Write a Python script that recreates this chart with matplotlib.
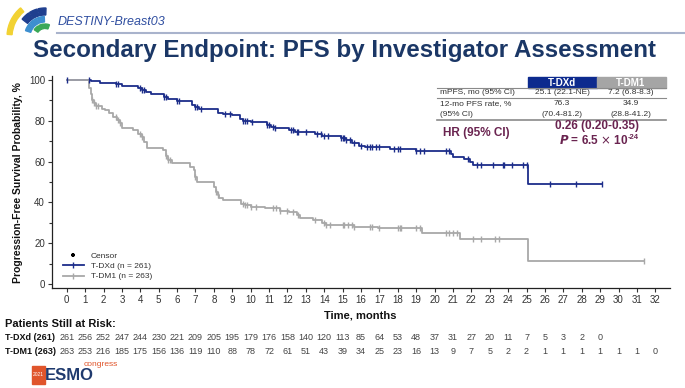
#!/usr/bin/env python3

import numpy as np
import matplotlib
matplotlib.use('Agg')
import matplotlib.pyplot as plt
from matplotlib.lines import Line2D
from matplotlib.patches import Wedge, Rectangle

plt.rcParams['font.family'] = ['Liberation Sans', 'DejaVu Sans']

# --- KM step data ---
dxd_t = [0, 1.3, 1.8, 2.7, 3.0, 3.9, 4.1, 4.3, 4.6, 5.3, 5.5, 6.0, 6.8, 7.0, 7.2, 8.2, 8.5, 9.0,
         9.4, 9.6, 10.0, 10.9, 11.1, 11.3, 12.1, 12.4, 13.5, 13.9, 14.9, 15.2, 15.5, 15.9, 16.2,
         17.6, 19.0, 20.9, 21.0, 21.6, 21.9, 22.1, 25.1]
dxd_s = [100, 99.5, 98.7, 98, 97, 96, 95, 94, 93, 91.5, 90.5, 89.6, 88, 87, 85.8, 84, 83.5, 82.8,
         81, 80, 79.4, 78, 77, 76.3, 75.5, 74.6, 73.5, 72.5, 71.5, 70.6, 69.3, 67.6, 67,
         66, 65, 63.5, 62.4, 61.1, 60, 58.5, 48.9]
dxd_end = 29.1
dxd_cens = [0, 1.2, 2.7, 2.8, 4.0, 4.1, 4.2, 5.3, 5.4, 6.0, 6.1, 7.0, 7.1, 7.3, 8.6, 8.9, 9.6, 9.7,
            9.8, 10.1, 10.9, 11.0, 11.2, 11.3, 12.2, 12.3, 12.5, 12.6, 13.0, 13.6, 13.8, 14.0, 14.2,
            14.9, 15.0, 15.1, 15.2, 15.4, 15.6, 16.0, 16.3, 16.5, 16.6, 16.8, 17.0, 17.8, 18.0, 18.1,
            19.0, 19.2, 19.4, 20.6, 20.8, 21.8, 22.3, 22.5, 23.2, 23.7, 23.8, 24.2, 24.8, 25.0,
            26.3, 27.7, 29.1]

dm1_t = [0, 1.2, 1.3, 1.4, 1.5, 1.6, 1.9, 2.1, 2.3, 2.5, 2.75, 2.9, 3.0, 3.6, 3.9, 4.1, 4.2, 4.35,
         5.25, 5.4, 5.5, 5.7, 6.7, 6.9, 7.0, 7.1, 8.0, 8.1, 8.2, 8.3, 8.5, 9.5, 9.7, 10.0, 10.8,
         11.6, 12.1, 12.5, 12.7, 13.4, 13.9, 14.1, 15.6, 16.9, 19.3, 21.4, 25.1]
dm1_s = [100, 96, 93, 90, 88.6, 87.4, 86, 85.3, 83.8, 82, 80.4, 78.8, 76.3, 75.5, 73.5, 71.9, 69.8,
         66.7, 65.7, 63, 61, 59.5, 57.5, 55.9, 52.6, 50.2, 47.7, 45, 43.6, 42, 41.2, 39.2, 38.6,
         37.9, 37.1, 35.9, 35.5, 33.8, 32.2, 31.4, 29.7, 28.9, 28.1, 27.3, 25.2, 21.9, 11.1]
dm1_end = 31.4
dm1_cens = [1.4, 1.5, 1.6, 1.7, 2.7, 2.8, 2.9, 4.0, 4.1, 5.4, 5.5, 5.6, 7.0, 8.1, 8.2, 9.6, 9.7,
            9.8, 10.0, 10.3, 11.2, 11.4, 11.6, 12.0, 12.3, 12.6, 13.5, 14.0, 14.1, 14.3, 15.0, 15.1,
            15.3, 15.5, 15.6, 16.5, 16.6, 17.0, 18.0, 18.1, 18.2, 19.0, 19.2, 20.6, 20.8, 21.0,
            21.2, 22.1, 22.5, 23.3, 23.5, 31.4]

risk_months = list(range(0, 33))
risk_dxd = [261, 256, 252, 247, 244, 230, 221, 209, 205, 195, 179, 176, 158, 140, 120, 113, 85,
            64, 53, 48, 37, 31, 27, 20, 11, 7, 5, 3, 2, 0]
risk_dm1 = [263, 253, 216, 185, 175, 156, 136, 119, 110, 88, 78, 72, 61, 51, 43, 39, 34, 25, 23,
            16, 13, 9, 7, 5, 2, 2, 1, 1, 1, 1, 1, 1, 0]

BLUE = '#1c2d8a'
GREY = '#a8a8a8'
NAVY = '#1b3766'
MAROON = '#6a2450'
TXT = '#333333'


def km(ax, t, s, t_end, cens, color):
    tt = list(t) + [t_end]
    ss = list(s) + [s[-1]]
    ax.step(tt, ss, where='post', color=color, lw=1.3, zorder=3)
    c = np.asarray(cens)
    idx = np.searchsorted(np.asarray(t), c, side='right') - 1
    ax.plot(c, np.asarray(s)[idx], ls='none', marker='|', ms=4.5, mew=1.0,
            color=color, zorder=4)


fig = plt.figure(figsize=(6.85, 3.88), dpi=100)
W, H = 685, 388

ax = fig.add_axes([52 / W, 1 - 288 / H, (670 - 52) / W, (288 - 76) / H])
km(ax, dxd_t, dxd_s, dxd_end, dxd_cens, BLUE)
km(ax, dm1_t, dm1_s, dm1_end, dm1_cens, GREY)

ax.set_xlim(-0.8, 32.8)
ax.set_ylim(-2, 102)
ax.set_xticks(risk_months)
ax.set_yticks([0, 20, 40, 60, 80, 100])
ax.set_yticks([10, 30, 50, 70, 90], minor=True)
ax.tick_params(axis='both', labelsize=7, colors=TXT, length=3, width=0.8, pad=2)
ax.tick_params(axis='y', which='minor', length=2, width=0.8, colors=TXT)
for sp in ['top', 'right']:
    ax.spines[sp].set_visible(False)
for sp in ['left', 'bottom']:
    ax.spines[sp].set_color('#222222')
    ax.spines[sp].set_linewidth(0.9)

handles = [
    Line2D([], [], ls='none', marker='+', ms=3.5, mew=1.6, color='black'),
    Line2D([], [], color=BLUE, lw=1.3, marker='|', ms=4),
    Line2D([], [], color=GREY, lw=1.3, marker='|', ms=4),
]
ax.legend(handles, ['Censor', 'T-DXd (n = 261)', 'T-DM1 (n = 263)'], loc='lower left',
          bbox_to_anchor=(0.005, 0.0), frameon=False, fontsize=6, handlelength=2.6,
          labelspacing=0.3, labelcolor=TXT)

# axis labels
fig.text(18 / W, 1 - 183 / H, 'Progression-Free Survival Probability, %', rotation=90,
         ha='center', va='center', fontsize=7.5, fontweight='bold', color='#111111')
fig.text(360 / W, 1 - 315 / H, 'Time, months', ha='center', va='center', fontsize=8,
         fontweight='bold', color='#111111')

# risk table
tr = ax.get_xaxis_transform()
fig.text(5 / W, 1 - 324 / H, 'Patients Still at Risk:', ha='left', va='center', fontsize=8,
         fontweight='bold', color='#111111')
for lab, vals, yp in [('T-DXd (261)', risk_dxd, 338), ('T-DM1 (263)', risk_dm1, 352)]:
    fig.text(5 / W, 1 - yp / H, lab, ha='left', va='center', fontsize=6.5,
             fontweight='bold', color='#111111')
    yax = (H - yp - (H - 288)) / (288 - 76)
    for m, v in zip(risk_months, vals):
        ax.text(m, yax, str(v), transform=tr, ha='center', va='center', fontsize=6.5,
                color='#444444', clip_on=False)

# summary table
fig.patches.append(Rectangle((528 / W, 1 - 88 / H), 69 / W, 11 / H, transform=fig.transFigure,
                             color='#0d2a8e', zorder=1))
fig.patches.append(Rectangle((597 / W, 1 - 88 / H), 69 / W, 11 / H, transform=fig.transFigure,
                             color='#a5a5a5', zorder=1))
fig.text(562 / W, 1 - 82.5 / H, 'T-DXd', ha='center', va='center', fontsize=7,
         fontweight='bold', color='white')
fig.text(631 / W, 1 - 82.5 / H, 'T-DM1', ha='center', va='center', fontsize=7,
         fontweight='bold', color='white')
for yl, lw in [(88, 0.8), (98, 0.8), (119.5, 1.2)]:
    fig.add_artist(Line2D([437 / W, 666 / W], [1 - yl / H, 1 - yl / H], color='#8a8a8a', lw=lw))
rows = [('mPFS, mo (95% CI)', '25.1 (22.1-NE)', '7.2 (6.8-8.3)', 93),
        ('12-mo PFS rate, %', '76.3', '34.9', 103.5),
        ('(95% CI)', '(70.4-81.2)', '(28.8-41.2)', 114)]
for a, b, c, yp in rows:
    fig.text(440 / W, 1 - yp / H, a, ha='left', va='center', fontsize=6, color=TXT)
    fig.text(562 / W, 1 - yp / H, b, ha='center', va='center', fontsize=6, color=TXT)
    fig.text(631 / W, 1 - yp / H, c, ha='center', va='center', fontsize=6, color=TXT)
fig.text(443 / W, 1 - 133 / H, 'HR (95% CI)', ha='left', va='center', fontsize=8.5,
         fontweight='bold', color=MAROON)
fig.text(597 / W, 1 - 126 / H, '0.26 (0.20-0.35)', ha='center', va='center', fontsize=8.5,
         fontweight='bold', color=MAROON)
fig.text(628 / W, 1 - 140 / H, r'$\bfit{P}$ = 6.5 $\times$ 10', ha='right',
         va='center', fontsize=8.5, fontweight='bold', color=MAROON)
fig.text(628 / W, 1 - 137 / H, '-24', ha='left', va='center', fontsize=5.5,
         fontweight='bold', color=MAROON)

# header
fig.text(33 / W, 1 - 51 / H, 'Secondary Endpoint: PFS by Investigator Assessment', ha='left',
         va='center', fontsize=17.4, fontweight='bold', color=NAVY)
fig.text(58 / W, 1 - 22 / H, 'DESTINY-Breast03', ha='left', va='center', fontsize=9,
         style='italic', color='#2f4ea0')
fig.add_artist(Line2D([57 / W, 1.0], [1 - 33 / H, 1 - 33 / H], color='#a9b3cc', lw=1.5))

# decorative logos in pixel space
deco = fig.add_axes([0, 0, 1, 1], zorder=-1)
deco.set_xlim(0, W)
deco.set_ylim(H, 0)
deco.axis('off')
cx, cy = 45, 37


def ring(r, w, spans, color):
    for a1, a2 in spans:
        deco.add_patch(Wedge((cx, cy), r, -a2, -a1, width=w, color=color))


ring(38, 5, [(130, 176)], '#f2d233')
ring(29, 7, [(88, 104), (106, 122), (124, 142)], '#1f3f8f')
ring(20.5, 5.5, [(92, 112), (115, 135), (138, 162)], '#3d8fd0')
ring(13, 4.5, [(70, 92), (96, 118), (122, 146)], '#3aa857')

deco.add_patch(Rectangle((32, 366), 13, 18, color='#e0552b'))
deco.text(38.5, 375, '2021', ha='center', va='center', fontsize=3.5, color='white')
deco.text(45, 376, 'ESMO', ha='left', va='center', fontsize=12, fontweight='bold',
          color='#1f3a6e')
deco.text(84, 365, 'congress', ha='left', va='center', fontsize=6, color='#e0552b')

plt.savefig('out.png', dpi=100)
